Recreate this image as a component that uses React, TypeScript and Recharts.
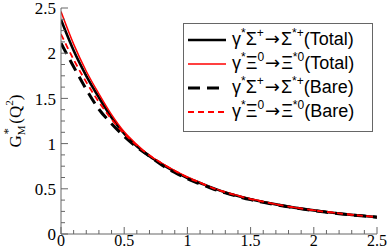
import { LineChart, Line, XAxis, YAxis, Legend } from 'recharts';

// Q^2 grid and form factor values
const q2 = [0, 0.1, 0.2, 0.3, 0.4, 0.5, 0.6, 0.7, 0.8, 0.9, 1.0, 1.1, 1.2, 1.3, 1.4, 1.5, 1.6, 1.7, 1.8, 1.9, 2.0, 2.1, 2.2, 2.3, 2.4, 2.5];
const sigmaTotal = [2.37, 2.03, 1.75, 1.51, 1.29, 1.11, 0.97, 0.86, 0.77, 0.69, 0.62, 0.565, 0.51, 0.46, 0.42, 0.385, 0.355, 0.328, 0.303, 0.281, 0.261, 0.243, 0.227, 0.212, 0.199, 0.187];
const xiTotal = [2.46, 2.1, 1.8, 1.55, 1.32, 1.13, 0.99, 0.87, 0.78, 0.7, 0.63, 0.57, 0.51, 0.465, 0.425, 0.39, 0.36, 0.33, 0.305, 0.283, 0.263, 0.245, 0.229, 0.214, 0.2, 0.188];
const sigmaBare = [2.11, 1.85, 1.6, 1.38, 1.22, 1.08, 0.96, 0.86, 0.76, 0.68, 0.61, 0.555, 0.5, 0.455, 0.415, 0.38, 0.35, 0.323, 0.3, 0.278, 0.258, 0.241, 0.225, 0.211, 0.198, 0.186];
const xiBare = [2.21, 1.93, 1.68, 1.46, 1.27, 1.11, 0.98, 0.87, 0.78, 0.7, 0.625, 0.567, 0.508, 0.462, 0.422, 0.387, 0.357, 0.329, 0.304, 0.282, 0.262, 0.244, 0.228, 0.213, 0.2, 0.187];

const xTicks = [0, 0.1, 0.2, 0.3, 0.4, 0.5, 0.6, 0.7, 0.8, 0.9, 1, 1.1, 1.2, 1.3, 1.4, 1.5, 1.6, 1.7, 1.8, 1.9, 2, 2.1, 2.2, 2.3, 2.4, 2.5];
const yTicks = [0, 0.125, 0.25, 0.375, 0.5, 0.625, 0.75, 0.875, 1, 1.125, 1.25, 1.375, 1.5, 1.625, 1.75, 1.875, 2, 2.125, 2.25, 2.375, 2.5];

const data = q2.map((q, i) => ({
  q2: q,
  sigmaTotal: sigmaTotal[i],
  xiTotal: xiTotal[i],
  sigmaBare: sigmaBare[i],
  xiBare: xiBare[i],
}));

const series = [
  { key: 'sigmaTotal', color: '#000', width: 2.6, dash: undefined, base: 'Σ', charge: '+', kind: 'Total' },
  { key: 'xiTotal', color: '#ff0000', width: 1.5, dash: undefined, base: 'Ξ', charge: '0', kind: 'Total' },
  { key: 'sigmaBare', color: '#000', width: 3, dash: '12 7', base: 'Σ', charge: '+', kind: 'Bare' },
  { key: 'xiBare', color: '#ff0000', width: 1.8, dash: '6 4', base: 'Ξ', charge: '0', kind: 'Bare' },
];

const AXIS = '#666';
const TICK_FONT = { fontFamily: '"Liberation Serif", "Times New Roman", serif', fontSize: 16, fill: '#000' };
const isMajor = (v: number) => Math.abs(v * 2 - Math.round(v * 2)) < 1e-6;

function BottomTick({ x, y, payload }: any) {
  const major = isMajor(payload.value);
  return (
    <g>
      <line x1={x} x2={x} y1={y} y2={y - (major ? 7 : 4)} stroke={AXIS} />
      {major && (
        <text x={x} y={y + 12} textAnchor="middle" {...TICK_FONT}>
          {String(payload.value)}
        </text>
      )}
    </g>
  );
}

function TopTick({ x, y, payload }: any) {
  const major = isMajor(payload.value);
  return <line x1={x} x2={x} y1={y} y2={y + (major ? 7 : 4)} stroke={AXIS} />;
}

function LeftTick({ x, y, payload }: any) {
  const major = isMajor(payload.value);
  return (
    <g>
      <line x1={x} x2={x + (major ? 7 : 4)} y1={y} y2={y} stroke={AXIS} />
      {major && (
        <text x={x - 5} y={y} dy="0.36em" textAnchor="end" {...TICK_FONT} fontSize={17}>
          {String(payload.value)}
        </text>
      )}
    </g>
  );
}

function RightTick({ x, y, payload }: any) {
  const major = isMajor(payload.value);
  return <line x1={x} x2={x - (major ? 7 : 4)} y1={y} y2={y} stroke={AXIS} />;
}

function YLabel() {
  return (
    <text
      transform="translate(21,121) rotate(-90)"
      textAnchor="middle"
      fontFamily='"Liberation Serif", "Times New Roman", serif'
      fontSize={17}
      fill="#000"
    >
      <tspan>G</tspan>
      <tspan fontSize={11} dy={4}>M</tspan>
      <tspan fontSize={13} dy={-13} dx={-9}>*</tspan>
      <tspan dy={9}> (Q</tspan>
      <tspan fontSize={11} dy={-8}>2</tspan>
      <tspan dy={8}>)</tspan>
    </text>
  );
}

const sup = { fontSize: 12, position: 'relative' as const, top: -8 };
const arrow = { fontFamily: '"DejaVu Sans", sans-serif', fontSize: 18, margin: '0 1px' };

function LegendBox() {
  return (
    <div
      style={{
        boxSizing: 'border-box',
        width: '100%',
        height: '100%',
        border: `1px solid ${AXIS}`,
        background: '#fff',
        padding: '4px 0 0 3px',
        fontFamily: '"Liberation Sans", Arial, sans-serif',
        fontSize: 18,
        color: '#000',
      }}
    >
      {series.map((s) => (
        <div key={s.key} style={{ height: 24, display: 'flex', alignItems: 'center', whiteSpace: 'nowrap' }}>
          <svg width={40} height={24} style={{ flex: 'none' }}>
            <line x1={1} x2={39} y1={12} y2={12} stroke={s.color} strokeWidth={s.width} strokeDasharray={s.dash} />
          </svg>
          <span style={{ marginLeft: 5, lineHeight: '24px' }}>
            γ<span style={sup}>*</span>
            {s.base}
            <span style={sup}>{s.charge}</span>
            <span style={arrow}>→</span>
            {s.base}
            <span style={sup}>*{s.charge}</span>({s.kind})
          </span>
        </div>
      ))}
    </div>
  );
}

export default function App() {
  return (
    <div style={{ position: 'absolute', left: 0, top: 0, background: '#fff' }}>
      <LineChart width={388} height={250} data={data} margin={{ top: 8, right: 11, bottom: 0, left: 0 }}>
        <XAxis
          dataKey="q2"
          type="number"
          domain={[0, 2.5]}
          ticks={xTicks}
          interval={0}
          height={16}
          tickSize={0}
          tickMargin={0}
          tickLine={false}
          axisLine={{ stroke: AXIS }}
          tick={BottomTick}
          allowDataOverflow
        />
        <XAxis
          xAxisId="top"
          orientation="top"
          type="number"
          domain={[0, 2.5]}
          ticks={xTicks}
          interval={0}
          height={0}
          tickSize={0}
          tickMargin={0}
          tickLine={false}
          axisLine={{ stroke: AXIS }}
          tick={TopTick}
          allowDataOverflow
        />
        <YAxis
          type="number"
          domain={[0, 2.5]}
          ticks={yTicks}
          interval={0}
          width={61}
          tickSize={0}
          tickMargin={0}
          tickLine={false}
          axisLine={{ stroke: AXIS }}
          tick={LeftTick}
          label={<YLabel />}
          allowDataOverflow
        />
        <YAxis
          yAxisId="right"
          orientation="right"
          type="number"
          domain={[0, 2.5]}
          ticks={yTicks}
          interval={0}
          width={0}
          tickSize={0}
          tickMargin={0}
          tickLine={false}
          axisLine={{ stroke: AXIS }}
          tick={RightTick}
          allowDataOverflow
        />
        {series.map((s) => (
          <Line
            key={s.key}
            type="monotone"
            dataKey={s.key}
            stroke={s.color}
            strokeWidth={s.width}
            strokeDasharray={s.dash}
            dot={false}
            activeDot={false}
            isAnimationActive={false}
          />
        ))}
        <Legend
          layout="vertical"
          align="center"
          verticalAlign="middle"
          wrapperStyle={{ left: 183, top: 23, width: 190, height: 109 }}
          content={LegendBox}
        />
      </LineChart>
    </div>
  );
}
